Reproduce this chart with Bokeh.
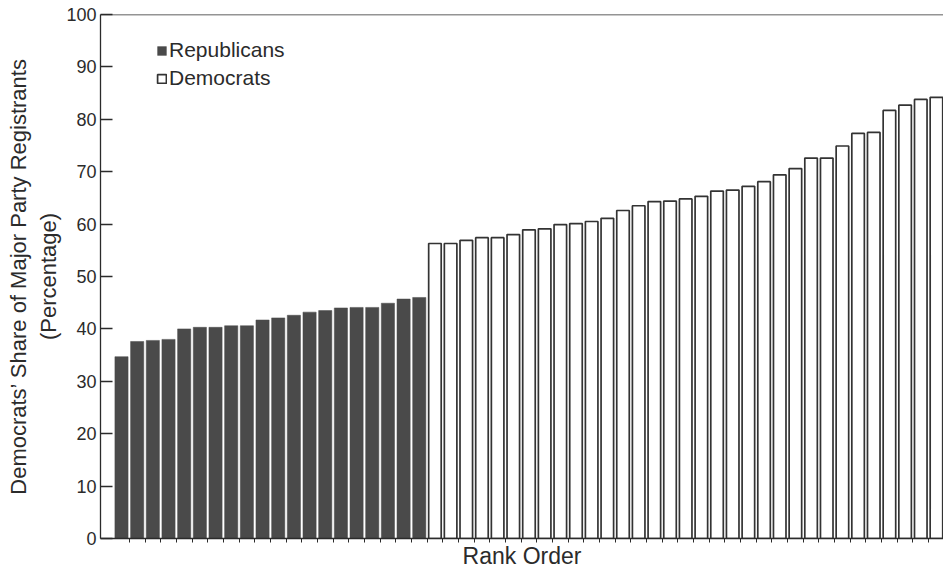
from bokeh.plotting import figure
from bokeh.models import Range1d, FixedTicker, Span, Legend, LegendItem, ColumnDataSource
from bokeh.embed import file_html
from bokeh.resources import INLINE

# Data (sorted, rank order)
republican_share = [34.7, 37.6, 37.8, 38.0, 40.0, 40.3, 40.3, 40.6, 40.6, 41.7,
                    42.1, 42.6, 43.2, 43.5, 44.0, 44.1, 44.1, 44.9, 45.7, 46.0]
democrat_share = [56.3, 56.3, 56.9, 57.4, 57.4, 58.0, 58.9, 59.1, 59.9, 60.1,
                  60.5, 61.1, 62.6, 63.5, 64.3, 64.4, 64.8, 65.3, 66.3, 66.5,
                  67.2, 68.1, 69.4, 70.6, 72.6, 72.6, 74.9, 77.3, 77.5, 81.7,
                  82.7, 83.8, 84.2]
y_ticks = [0, 10, 20, 30, 40, 50, 60, 70, 80, 90, 100]

n_rep = len(republican_share)
n_dem = len(democrat_share)
rep_x = list(range(1, n_rep + 1))
dem_x = list(range(n_rep + 1, n_rep + n_dem + 1))
n_all = n_rep + n_dem

FONT = "Liberation Sans"
INK = "#2b2b2b"

p = figure(width=943, height=571, output_backend="svg", toolbar_location=None,
           x_range=Range1d(-0.34, n_all + 0.45), y_range=Range1d(0, 100),
           min_border_left=100, min_border_right=0, min_border_top=14, min_border_bottom=31)
p.outline_line_color = None
p.grid.grid_line_color = None
p.background_fill_color = "white"

rep_src = ColumnDataSource(dict(x=rep_x, top=republican_share))
dem_src = ColumnDataSource(dict(x=dem_x, top=democrat_share))
r_rep = p.vbar(x="x", top="top", width=0.84, bottom=0, source=rep_src,
               fill_color="#4a4a4a", line_color="#4a4a4a", line_width=0.5)
r_dem = p.vbar(x="x", top="top", width=0.80, bottom=0, source=dem_src,
               fill_color="white", line_color="#333333", line_width=1.7)

# top border
p.add_layout(Span(location=100, dimension="width", line_color=INK, line_width=1.3))

# y axis
ya = p.yaxis[0]
ya.ticker = FixedTicker(ticks=y_ticks)
ya.major_tick_in = 12
ya.major_tick_out = 0
ya.minor_tick_line_color = None
ya.axis_line_color = INK
ya.axis_line_width = 1.3
ya.major_tick_line_color = INK
ya.major_tick_line_width = 1.3
ya.major_label_text_font = FONT
ya.major_label_text_font_size = "18px"
ya.major_label_text_color = INK
ya.major_label_standoff = 4
ya.axis_label = "Democrats\u2019 Share of Major Party Registrants\n(Percentage)"
ya.axis_label_text_font = FONT
ya.axis_label_text_font_size = "22px"
ya.axis_label_text_font_style = "normal"
ya.axis_label_text_color = INK
ya.axis_label_standoff = 2

# x axis
x_tick_pos = [i + 0.5 for i in range(1, n_all)]
xa = p.xaxis[0]
xa.ticker = FixedTicker(ticks=x_tick_pos)
xa.major_label_overrides = {t: "" for t in x_tick_pos}
xa.major_tick_in = 0
xa.major_tick_out = 4
xa.minor_tick_line_color = None
xa.axis_line_color = INK
xa.axis_line_width = 1.3
xa.major_tick_line_color = INK
xa.major_label_text_font_size = "4px"
xa.major_label_standoff = 0
xa.axis_label = "Rank Order"
xa.axis_label_text_font = FONT
xa.axis_label_text_font_size = "23px"
xa.axis_label_text_font_style = "normal"
xa.axis_label_text_color = INK
xa.axis_label_standoff = 0

legend = Legend(items=[LegendItem(label="Republicans", renderers=[r_rep]),
                       LegendItem(label="Democrats", renderers=[r_dem])],
                location=(56, 448), orientation="vertical")
legend.background_fill_alpha = 0
legend.border_line_color = None
legend.padding = 0
legend.margin = 0
legend.spacing = 4
legend.glyph_width = 11
legend.glyph_height = 11
legend.label_height = 24
legend.label_standoff = 2
legend.label_text_font = FONT
legend.label_text_font_size = "21px"
legend.label_text_color = INK
p.add_layout(legend)

open("out.html", "w").write(file_html(p, INLINE))
